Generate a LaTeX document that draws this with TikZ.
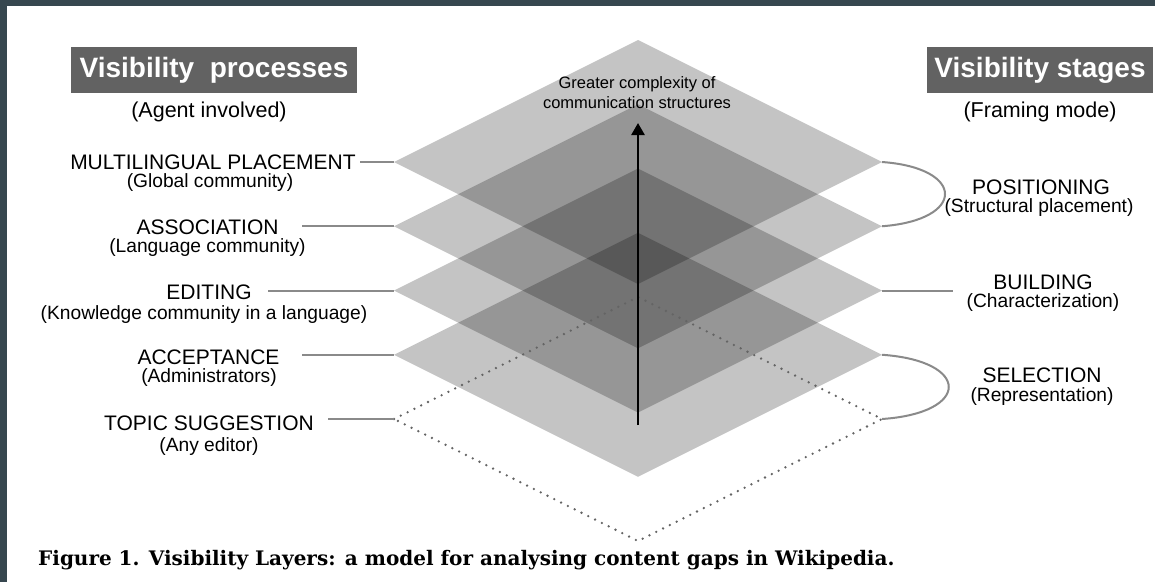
\documentclass[tikz,border=0pt]{standalone}
\usepackage{fontspec}
\setmainfont{Liberation Sans}
\newfontfamily\capfont{DejaVu Serif}
\usetikzlibrary{arrows.meta}
\definecolor{slate}{RGB}{55,71,79}
\definecolor{boxgray}{RGB}{98,98,98}
\definecolor{linegray}{RGB}{138,138,138}
\definecolor{dotgray}{RGB}{100,100,100}
\begin{document}
\begin{tikzpicture}[x=1pt,y=-1pt,
  layer/.style={fill=black,fill opacity=0.23,draw=none},
  dotline/.style={dotgray,line width=2.6pt,line cap=round,dash pattern=on 0pt off 7.6pt},
  conn/.style={linegray,line width=2pt},
  lab/.style={font=\fontsize{21}{24}\selectfont,inner sep=0pt,anchor=center},
  sublab/.style={font=\fontsize{19.2}{22}\selectfont,inner sep=0pt,anchor=center},
  headsub/.style={font=\fontsize{21.5}{24}\selectfont,inner sep=0pt,anchor=center},
  title/.style={fill=boxgray,text=white,font=\fontsize{28}{30}\selectfont\bfseries,minimum height=46pt,inner sep=0pt},
  arrowline/.style={line width=2.5pt,-{Triangle[width=13pt,length=12pt]}}]
\useasboundingbox (0,0) rectangle (1155,582);
\fill[slate] (0,0) rectangle (1155,582);
\fill[white] (7,6) rectangle (1155,582);
% layer vertices
\foreach \i/\Y in {1/162,2/226.25,3/290.5,4/354.75,5/419} {
  \coordinate (L\i) at (394,\Y);
  \coordinate (T\i) at (638,{\Y-122});
  \coordinate (R\i) at (882,\Y);
  \coordinate (B\i) at (638,{\Y+122});
}
\foreach \i in {1,...,4} {
  \fill[layer] (L\i) -- (T\i) -- (R\i) -- (B\i) -- cycle;
}
\draw[dotline] (L5) -- (T5) -- (R5) -- (B5) -- cycle;
% arrow
\coordinate (abot) at (638,425);
\coordinate (atop) at (638,123);
\draw[arrowline] (abot) -- (atop);
\node[font=\fontsize{16.5}{20}\selectfont,align=center,inner sep=0pt] (gc) at (637,93) {Greater complexity of\\communication structures};
% titles
\node[title,minimum width=286pt] (vp) at (214,70) {Visibility\ \ processes};
\node[headsub] (ai) at (209,112) {(Agent involved)};
\node[title,minimum width=226pt] (vs) at (1040,70) {Visibility stages};
\node[headsub] (fm) at (1040,112) {(Framing mode)};
% left labels
\node[lab] (mp) at (213,162) {MULTILINGUAL PLACEMENT};
\node[sublab] (mps) at (210,183) {(Global community)};
\node[lab] (as) at (207.5,227) {ASSOCIATION};
\node[sublab] (ass) at (207.5,248) {(Language community)};
\node[lab] (ed) at (209,292) {EDITING};
\node[sublab] (eds) at (204,315) {(Knowledge community in a language)};
\node[lab] (ac) at (208.5,357) {ACCEPTANCE};
\node[sublab] (acs) at (209,378) {(Administrators)};
\node[lab] (ts) at (209,423) {TOPIC SUGGESTION};
\node[sublab] (tss) at (209,447) {(Any editor)};
% right labels
\node[lab] (po) at (1041,187) {POSITIONING};
\node[sublab] (pos) at (1039,208) {(Structural placement)};
\node[lab] (bu) at (1043,282) {BUILDING};
\node[sublab] (bus) at (1043,303) {(Characterization)};
\node[lab] (se) at (1042,375) {SELECTION};
\node[sublab] (ses) at (1042,397) {(Representation)};
% connectors
\coordinate (c1) at (360,162);
\coordinate (c2) at (302,226.25);
\coordinate (c3) at (268,290.5);
\coordinate (c4) at (302,354.75);
\coordinate (c5) at (328,419);
\coordinate (c6) at (953,290.5);
\foreach \i in {1,...,5} { \draw[conn] (c\i) -- (L\i); }
\draw[conn] (R3) -- (c6);
\draw[conn] (R1) .. controls (966,168) and (966,220) .. (R2);
\draw[conn] (R4) .. controls (971,361) and (971,413) .. (R5);
% caption
\node[font=\capfont\bfseries\fontsize{20}{22}\selectfont,anchor=base west,inner sep=0pt] (cap) at (38,565) {Figure 1. Visibility Layers: a model for analysing content gaps in Wikipedia.};
\end{tikzpicture}
\end{document}
